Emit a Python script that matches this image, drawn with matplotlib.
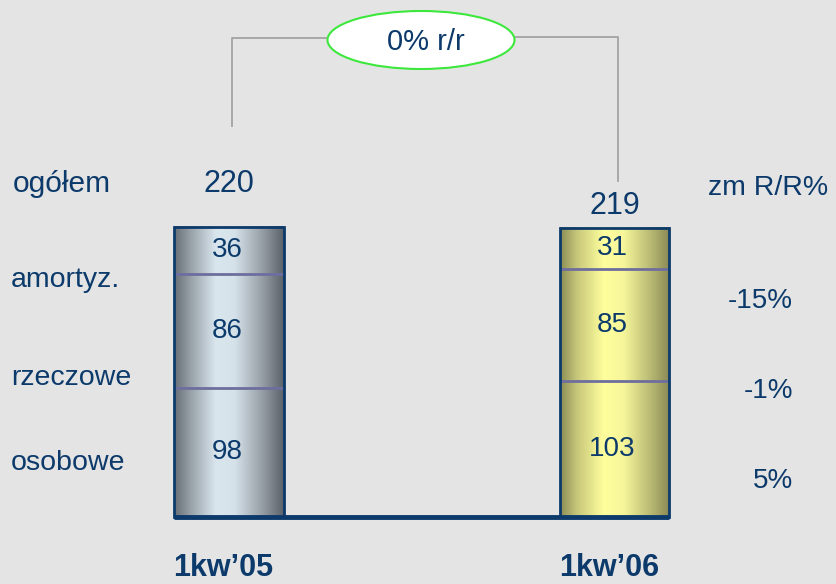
import matplotlib
matplotlib.use("Agg")
import matplotlib.pyplot as plt
import numpy as np
from matplotlib.colors import LinearSegmentedColormap
from matplotlib.patches import Rectangle, Ellipse

# ---- data ----
periods = ["1kw\u201905", "1kw\u201906"]
categories = ["osobowe", "rzeczowe", "amortyz."]
values_05 = [98, 86, 36]
values_06 = [103, 85, 31]
totals = [220, 219]
change_pct = ["5%", "-1%", "-15%"]
yoy_label = "0% r/r"

NAVY = "#0c3a6b"
BG = "#e4e4e4"
FONT = "Liberation Sans"
plt.rcParams["font.family"] = [FONT, "DejaVu Sans"]

W, H = 836, 584
fig = plt.figure(figsize=(W / 100, H / 100), dpi=100, facecolor=BG)

# data axes
ax = fig.add_axes([0, 0, 1, 1])
ax.set_facecolor(BG)
ax.axis("off")
s = 1.32  # px per unit
XL = (-229 / 385.5, (W - 229) / 385.5)
YL = (-67 / s, 517 / s)

# overlay axes in pixel coordinates for annotations
ov = fig.add_axes([0, 0, 1, 1], zorder=5)
ov.axis("off")
ov.patch.set_alpha(0)
ov.set_xlim(0, W)
ov.set_ylim(H, 0)

cmaps = [
    LinearSegmentedColormap.from_list("steel", [
        (0.0, "#676d74"), (0.15, "#98a1a8"), (0.38, "#dae6ee"),
        (0.55, "#d6e2ea"), (0.8, "#98a0a7"), (1.0, "#5b6168")]),
    LinearSegmentedColormap.from_list("olive", [
        (0.0, "#8c8c55"), (0.15, "#c6c67a"), (0.4, "#ffff9d"),
        (0.58, "#f6f69a"), (0.85, "#b3b370"), (1.0, "#888853")]),
]

xs = np.arange(len(periods))
bw = 0.284
grad = np.linspace(0, 1, 256).reshape(1, -1)
series = [values_05, values_06]
for i, (x, vals) in enumerate(zip(xs, series)):
    tot = sum(vals)
    ax.imshow(grad, cmap=cmaps[i], aspect="auto",
              extent=[x - bw / 2, x + bw / 2, 0, tot], zorder=1,
              interpolation="bicubic")
    cum = np.cumsum(vals)
    ax.hlines(cum[:-1], x - bw / 2, x + bw / 2, colors="#6e6e9e", lw=2, zorder=3)
    ax.add_patch(Rectangle((x - bw / 2, 0), bw, tot, fill=False,
                           edgecolor=NAVY, lw=2, zorder=4))
    bottoms = np.concatenate([[0], cum[:-1]])
    for b, v in zip(bottoms, vals):
        ax.text(x - 0.005, b + v / 2, str(v), ha="center", va="center",
                fontsize=20, color=NAVY, zorder=6)
    ax.text(x - 0.015, -(576 - 517) / s, periods[i], ha="center", va="baseline",
            fontsize=22, fontweight="bold", color=NAVY)

ax.plot([xs[0] - bw / 2, xs[-1] + bw / 2], [0, 0], color=NAVY, lw=3.5,
        zorder=5, solid_capstyle="butt")
ax.set_xlim(*XL)
ax.set_ylim(*YL)

# totals
ov.text(229, 192, str(totals[0]), ha="center", va="baseline", fontsize=22, color=NAVY)
ax.annotate(str(totals[1]), (xs[1], totals[1]), xytext=(0, 5),
            textcoords="offset points", ha="center", va="bottom",
            fontsize=22, color=NAVY)

# left labels
ov.text(13, 192, "og\u00f3\u0142em", ha="left", va="baseline", fontsize=21.5, color=NAVY)
for lab, yb in zip(categories, [470, 385, 287]):
    ov.text(11, yb, lab, ha="left", va="baseline", fontsize=20.5, color=NAVY)

# right labels
ov.text(708, 195, "zm R/R%", ha="left", va="baseline", fontsize=20.5, color=NAVY)
for lab, yb in zip(change_pct, [488, 398, 308]):
    ov.text(793, yb, lab, ha="right", va="baseline", fontsize=20, color=NAVY)

# connector lines and ellipse
gray = "#a3a3a3"
ov.plot([232, 232, 328], [126, 38, 38], color=gray, lw=1.3)
ov.plot([514, 618, 618], [37, 37, 181], color=gray, lw=1.3)
ov.add_patch(Ellipse((421, 40), 187, 58, facecolor="white",
                     edgecolor="#3de83d", lw=1.5, zorder=6))
ov.text(426, 50, yoy_label, ha="center", va="baseline", fontsize=21,
        color=NAVY, zorder=7)

fig.savefig("out.png", dpi=100, facecolor=BG)
